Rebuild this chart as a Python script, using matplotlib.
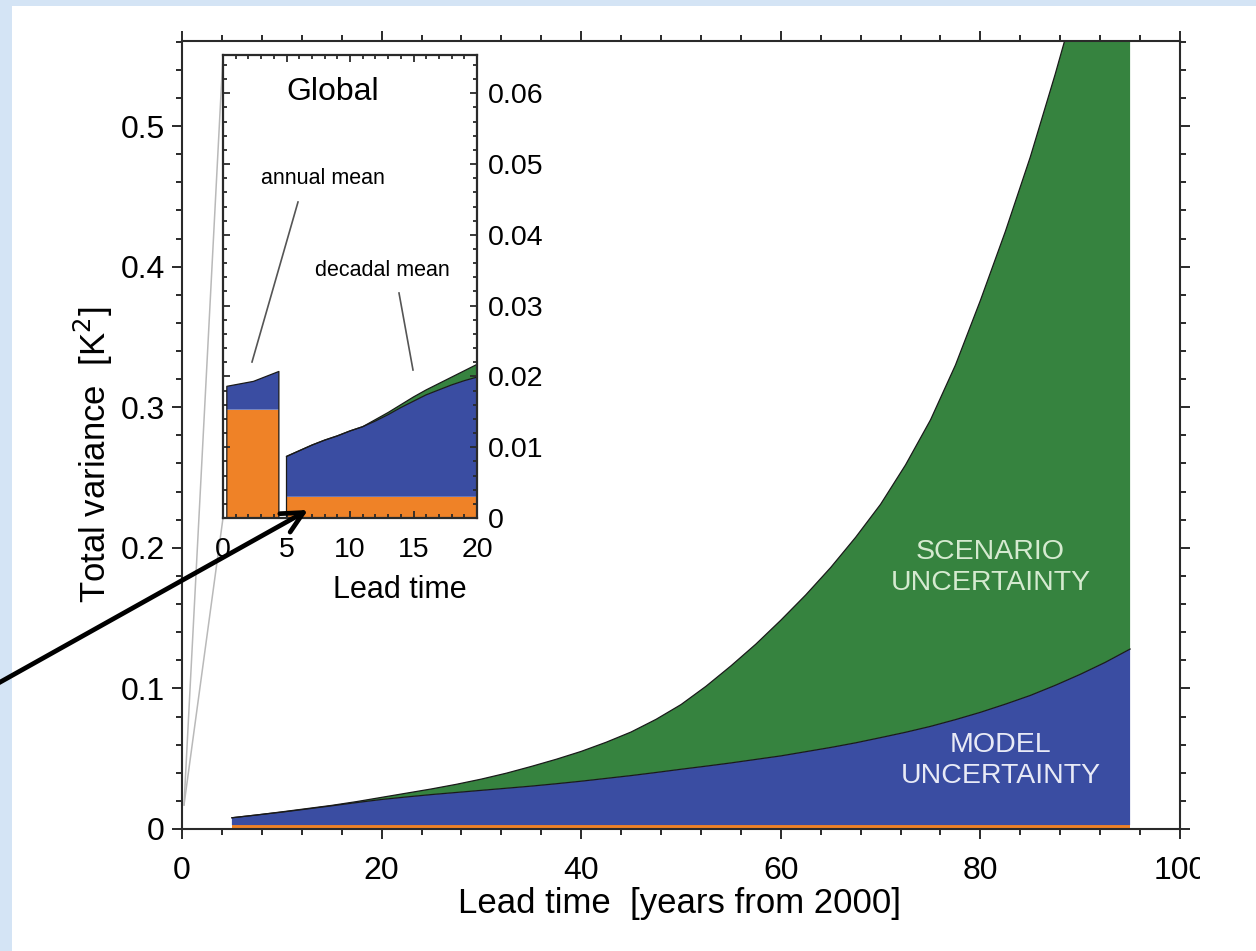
import matplotlib
matplotlib.use("Agg")
import matplotlib.pyplot as plt
import numpy as np
from matplotlib.ticker import MultipleLocator, FuncFormatter
from matplotlib.patches import Rectangle, FancyArrowPatch
from matplotlib.lines import Line2D
from matplotlib.transforms import Bbox, TransformedBbox

plt.rcParams["font.family"] = ["Liberation Sans", "DejaVu Sans"]

# ---- main panel: variance components vs lead time (decadal means) ----
lead = [5, 7.5, 10, 12.5, 15, 17.5, 20, 22.5, 25, 27.5, 30, 32.5, 35, 37.5, 40,
        42.5, 45, 47.5, 50, 52.5, 55, 57.5, 60, 62.5, 65, 67.5, 70, 72.5, 75,
        77.5, 80, 82.5, 85, 87.5, 90, 92.5, 95]
internal = [0.0028] * 37
model = [0.0052, 0.0072, 0.0092, 0.0114, 0.0137, 0.0160, 0.0182, 0.0200, 0.0217,
         0.0232, 0.0247, 0.0262, 0.0277, 0.0294, 0.0312, 0.0332, 0.0352, 0.0374,
         0.0397, 0.0419, 0.0442, 0.0467, 0.0492, 0.0522, 0.0552, 0.0585, 0.0622,
         0.0660, 0.0702, 0.0750, 0.0802, 0.0860, 0.0922, 0.0994, 0.1072, 0.1157,
         0.1252]
scenario = [0.0000, 0.0000, 0.0002, 0.0003, 0.0003, 0.0007, 0.0015, 0.0027, 0.0040,
            0.0058, 0.0080, 0.0107, 0.0140, 0.0174, 0.0212, 0.0257, 0.0310, 0.0378,
            0.0460, 0.0568, 0.0690, 0.0820, 0.0965, 0.1115, 0.1280, 0.1462, 0.1660,
            0.1902, 0.2180, 0.2522, 0.2930, 0.3362, 0.3830, 0.4348, 0.4900, 0.5495,
            0.6120]

# ---- inset: first two decades, annual and decadal means ----
annual_lead = [0.3, 2.4, 4.4]
annual_internal = [0.0153, 0.0153, 0.0153]
annual_model = [0.0033, 0.0040, 0.0054]

decadal_lead = [5, 6, 7, 8, 9, 10, 11, 12, 13, 14, 15, 16, 17, 18, 19, 20]
decadal_internal = [0.0030] * 16
decadal_model = [0.0057, 0.0065, 0.0073, 0.0080, 0.0086, 0.0093, 0.0099, 0.0107,
                 0.0116, 0.0126, 0.0135, 0.0144, 0.0151, 0.0158, 0.0164, 0.0169]
decadal_scenario = [0.0, 0.0, 0.0, 0.0, 0.0, 0.0, 0.0, 0.0002,
                    0.0003, 0.0004, 0.0006, 0.0007, 0.0009, 0.0011, 0.0014, 0.0018]

main_xticks = [0, 20, 40, 60, 80, 100]
main_yticks = [0, 0.1, 0.2, 0.3, 0.4, 0.5]
inset_xticks = [0, 5, 10, 15, 20]
inset_yticks = [0, 0.01, 0.02, 0.03, 0.04, 0.05, 0.06]

ORANGE = "#ef8227"
BLUE = "#3a4da2"
GREEN = "#36833f"
SPINE = "#2a2a2a"

W, H = 1256, 951
fig = plt.figure(figsize=(W / 100, H / 100), dpi=100, facecolor="#d4e4f5")


def fx(px):
    return px / W


def fy(py):
    return 1 - py / H


# white page area
fig.add_artist(Rectangle((fx(12), 0), 1, fy(6), transform=fig.transFigure,
                         facecolor="white", edgecolor="none", zorder=-1))

# ---------------- main axes ----------------
ax = fig.add_axes([fx(182), fy(829), fx(1180) - fx(182), fy(41) - fy(829)])
ax.set_zorder(1)
ax.stackplot(lead, internal, model, scenario, colors=[ORANGE, BLUE, GREEN],
             linewidth=0, edgecolor="none")
cum = np.cumsum([internal, model, scenario], axis=0)
ax.plot(lead, cum[1], color="#1a1a1a", lw=0.9)
ax.plot(lead, cum[2], color="#1a1a1a", lw=0.9)

ax.set_xlim(0, 100)
ax.set_ylim(0, 0.5605)
ax.set_xticks(main_xticks)
ax.set_yticks(main_yticks)
ax.xaxis.set_minor_locator(MultipleLocator(4))
ax.yaxis.set_minor_locator(MultipleLocator(0.02))
ax.xaxis.set_major_formatter(FuncFormatter(lambda v, p: f"{v:.0f}"))
ax.yaxis.set_major_formatter(FuncFormatter(lambda v, p: "0" if abs(v) < 1e-9 else f"{v:.1f}"))
ax.tick_params(which="both", direction="out", top=True, right=True,
               color=SPINE, width=1.4, labelsize=23)
ax.tick_params(which="major", length=7.5)
ax.tick_params(which="minor", length=4)
ax.tick_params(axis="x", pad=12)
ax.tick_params(axis="y", pad=5)
for s in ax.spines.values():
    s.set_linewidth(1.5)
    s.set_color(SPINE)

fig.text(fx(680), fy(913), "Lead time  [years from 2000]", ha="center",
         va="baseline", fontsize=25)
fig.text(fx(93), fy(455), "Total variance  [K$^2$]", ha="center", va="center",
         rotation=90, fontsize=25)

ax.text(81, 0.186, "SCENARIO\nUNCERTAINTY", ha="center", va="center",
        color="#d5ead0", fontsize=20.5, linespacing=1.25)
ax.text(82, 0.049, "MODEL\nUNCERTAINTY", ha="center", va="center",
        color="#e8eaf6", fontsize=20.5, linespacing=1.25)

# zoom guide lines from the origin region to the inset
for y_end in (55, 518):
    fig.add_artist(Line2D([fx(184), fx(223)], [fy(805), fy(y_end)],
                          transform=fig.transFigure, color="#b9b9b9", lw=1.1, zorder=2))

# ---------------- inset axes ----------------
axin = fig.add_axes([fx(223), fy(518), fx(477) - fx(223), fy(55) - fy(518)])
axin.set_zorder(5)
axin.set_facecolor("white")
axin.stackplot(annual_lead, annual_internal, annual_model,
               colors=[ORANGE, BLUE], linewidth=0, edgecolor="none")
axin.stackplot(decadal_lead, decadal_internal, decadal_model, decadal_scenario,
               colors=[ORANGE, BLUE, GREEN], linewidth=0, edgecolor="none")

a_top = np.add(annual_internal, annual_model)
axin.plot([annual_lead[0]] + annual_lead + [annual_lead[-1]],
          [0] + list(a_top) + [0], color="#1a1a1a", lw=0.9)
d_cum = np.cumsum([decadal_internal, decadal_model, decadal_scenario], axis=0)
axin.plot([decadal_lead[0]] + decadal_lead, [0] + list(d_cum[1]), color="#1a1a1a", lw=0.9)
axin.plot(decadal_lead, d_cum[2], color="#1a1a1a", lw=0.9)

axin.set_xlim(0, 20)
axin.set_ylim(0, 0.0654)
axin.set_xticks(inset_xticks)
axin.set_yticks(inset_yticks)
axin.xaxis.set_minor_locator(MultipleLocator(1))
axin.yaxis.set_minor_locator(MultipleLocator(0.002))
axin.xaxis.set_major_formatter(FuncFormatter(lambda v, p: f"{v:.0f}"))
axin.yaxis.set_major_formatter(FuncFormatter(lambda v, p: "0" if abs(v) < 1e-9 else f"{v:.2f}"))
axin.yaxis.tick_right()
axin.tick_params(which="both", direction="in", top=True, bottom=True, left=True,
                 right=True, labelleft=False, labelright=True, color=SPINE,
                 width=1.3, labelsize=20.5)
axin.tick_params(which="major", length=5)
axin.tick_params(which="minor", length=3)
axin.tick_params(axis="x", pad=14)
axin.tick_params(axis="y", pad=8)
for s in axin.spines.values():
    s.set_linewidth(1.6)
    s.set_color(SPINE)

fig.text(fx(333), fy(92), "Global", ha="center", va="center", fontsize=23, zorder=6)
fig.text(fx(400), fy(590), "Lead time", ha="center", va="center", fontsize=22, zorder=6)
fig.text(fx(323), fy(178), "annual mean", ha="center", va="center", fontsize=15.5, zorder=6)
fig.text(fx(382), fy(270), "decadal mean", ha="center", va="center", fontsize=15.5, zorder=6)
fig.add_artist(Line2D([fx(298), fx(252)], [fy(202), fy(362)], transform=fig.transFigure,
                      color="#555555", lw=1.2, zorder=6))
fig.add_artist(Line2D([fx(399), fx(413)], [fy(293), fy(370)], transform=fig.transFigure,
                      color="#555555", lw=1.2, zorder=6))

# pointer arrow onto the decadal internal-variability band
fig.add_artist(FancyArrowPatch((fx(-5), fy(685)), (fx(308), fy(510)),
                               transform=fig.transFigure, arrowstyle="->",
                               mutation_scale=38, lw=3.4, color="black",
                               shrinkA=0, shrinkB=0, zorder=10))

# last x label is cut at the page edge
clip = TransformedBbox(Bbox([[0, 0], [fx(1200), 1]]), fig.transFigure)
for t in ax.xaxis.get_major_ticks():
    t.label1.set_clip_box(clip)
    t.label1.set_clip_on(True)

fig.savefig("out.png", dpi=100, facecolor=fig.get_facecolor())
